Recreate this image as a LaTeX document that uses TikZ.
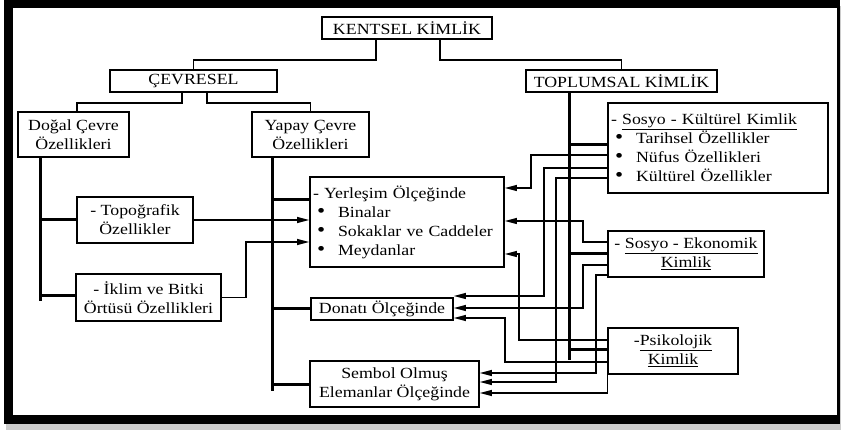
\documentclass[tikz,border=0pt]{standalone}
\usepackage{fontspec}
\setmainfont[FakeStretch=1.15]{Liberation Serif}
\usetikzlibrary{arrows.meta}
\tikzset{
plain box/.style = { rectangle, draw = black, line width = 1.8pt, fill = white, align = center, inner sep = 0pt, font = \fontsize{15.5}{19}\selectfont },
list box/.style = { plain box, align = left, inner xsep = 3pt },
trunk line/.style = { draw = black, line width = 3pt },
link line/.style = { draw = black, line width = 1.3pt },
feed line/.style = { draw = black, line width = 1.2pt, -{Triangle[length = 12pt, width = 6pt]} },
}
\newcommand{\bulletitem}[1]{\hspace{4pt}\makebox[21pt][l]{\scalebox{1.3}{\textbullet}}#1}

\begin{document}
\begin{tikzpicture}[x=1pt, y=-1pt]
      \useasboundingbox (0,0) rectangle (841,430);
      % frame
      \fill[gray!40] (6,6) rectangle (841,430);
      \fill[black] (4,0) rectangle (840,424);
      \fill[white] (13,8) rectangle (837,415);

      \node[plain box, minimum width=170pt, minimum height=22pt] (kentsel) at (407,28) {KENTSEL KİMLİK};
      \node[plain box, minimum width=167pt, minimum height=22pt] (cevresel) at (193.5,81) {ÇEVRESEL};
      \node[plain box, minimum width=191pt, minimum height=22pt] (toplumsal) at (621.5,81) {TOPLUMSAL KİMLİK};
      \node[plain box, minimum width=111pt, minimum height=45pt] (dogal) at (73.5,134.5) {Doğal Çevre\\Özellikleri};
      \node[plain box, minimum width=117pt, minimum height=45pt] (yapay) at (310.5,134.5) {Yapay Çevre\\Özellikleri};
      \node[plain box, minimum width=116pt, minimum height=46pt] (topo) at (135,220) {- Topoğrafik\\Özellikler};
      \node[plain box, minimum width=145pt, minimum height=47pt] (iklim) at (148.5,297.5) {- İklim ve Bitki\\Örtüsü Özellikleri};
      \node[list box, text width=188pt, minimum height=90pt] (yerlesim) at (407,222) {- Yerleşim Ölçeğinde\\\bulletitem{Binalar}\\\bulletitem{Sokaklar ve Caddeler}\\\bulletitem{Meydanlar}};
      \node[plain box, minimum width=142pt, minimum height=22pt] (donati) at (382,309) {Donatı Ölçeğinde};
      \node[plain box, minimum width=169pt, minimum height=46pt] (sembol) at (394.5,384) {Sembol Olmuş\\Elemanlar Ölçeğinde};
      \node[list box, text width=214pt, minimum height=90pt] (kultur) at (718,148) {- \underline{Sosyo - Kültürel Kimlik}\\\bulletitem{Tarihsel Özellikler}\\\bulletitem{Nüfus Özellikleri}\\\bulletitem{Kültürel Özellikler}};
      \node[plain box, minimum width=156pt, minimum height=46pt] (ekonomik) at (686,254) {- \underline{Sosyo - Ekonomik}\\\underline{Kimlik}};
      \node[plain box, minimum width=130pt, minimum height=46pt] (psiko) at (673,351) {-\underline{Psikolojik}\\\underline{Kimlik}};

      \coordinate (dogal end) at (40,301);
      \coordinate (yapay end) at (272,391);
      \coordinate (toplumsal end) at (569,360);

      % tree
      \path[link line] (kentsel.south -| 376,0) -- (376,60) -| (cevresel.north);
      \path[link line] (kentsel.south -| 440,0) -- (440,60) -| (toplumsal.north);
      \path[link line] (cevresel.south -| 182,0) -- (182,103) -| (dogal.north -| 77,0);
      \path[link line] (cevresel.south -| 207,0) -- (207,103) -| (yapay.north);

      \path[trunk line] (dogal.south -| dogal end) -- (dogal end);
      \path[trunk line] (topo.west -| dogal end) -- (topo.west);
      \path[trunk line] (dogal end |- 0,296) -- (iklim.west |- 0,296);
      \path[trunk line] (yapay.south -| yapay end) -- (yapay end);
      \path[trunk line] (yapay end |- 0,200) -- (yerlesim.west |- 0,200);
      \path[trunk line] (donati.west -| yapay end) -- (donati.west);
      \path[trunk line] (sembol.west -| yapay end) -- (sembol.west);
      \path[trunk line] (toplumsal.south -| toplumsal end) -- (toplumsal end);
      \path[trunk line] (toplumsal end |- 0,145) -- (kultur.west |- 0,145);
      \path[trunk line] (ekonomik.west -| toplumsal end) -- (ekonomik.west);
      \path[trunk line] (toplumsal end |- 0,350) -- (psiko.west |- 0,350);

      % arrows
      \path[feed line] (topo.east) -- (yerlesim.west |- topo.east);
      \path[feed line] (iklim.east) -| (246,242) -- (yerlesim.west |- 0,242);
      \path[feed line] (kultur.west |- 0,155) -| (531,188) -- (yerlesim.east |- 0,188);
      \path[feed line] (kultur.west |- 0,168) -| (544,296) -- (donati.east |- 0,296);
      \path[feed line] (kultur.west |- 0,178) -| (556,382) -- (sembol.east |- 0,382);
      \path[feed line] (ekonomik.west |- 0,242) -| (583,221) -- (yerlesim.east |- 0,221);
      \path[feed line] (ekonomik.west |- 0,265) -| (583,308) -- (donati.east |- 0,308);
      \path[feed line] (ekonomik.west |- 0,275) -| (596,373) -- (sembol.east |- 0,373);
      \path[feed line] (psiko.west |- 0,340) -| (519,254) -- (yerlesim.east |- 0,254);
      \path[feed line] (psiko.west |- 0,362) -| (505,318) -- (donati.east |- 0,318);
      \path[feed line] (psiko.south west) |- (sembol.east |- 0,393);
\end{tikzpicture}
\end{document}
